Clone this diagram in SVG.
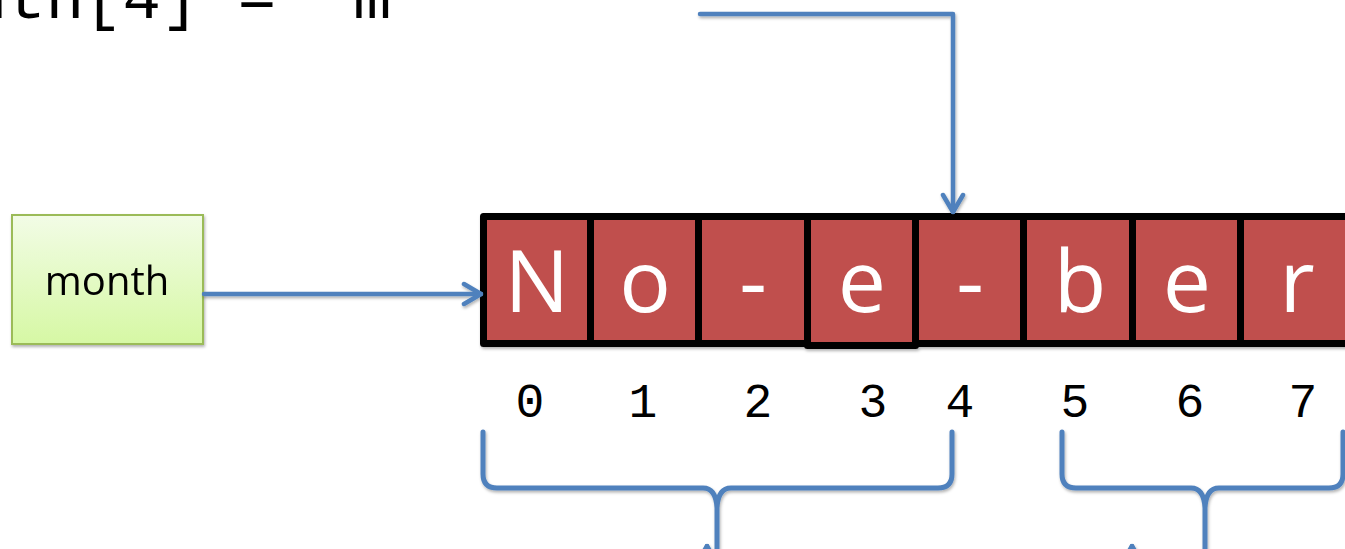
<svg xmlns="http://www.w3.org/2000/svg" width="1345" height="549" viewBox="0 0 1345 549">
<style>
.cell rect{fill:#c0504d;stroke:#000;stroke-width:7;stroke-linejoin:round}
.cell text{font-family:"Open Sans","Noto Sans",sans-serif;font-size:86px;fill:#fff;text-anchor:middle}
.idx{font-family:"Liberation Mono","Courier New",monospace;font-size:48px;fill:#000;text-anchor:middle}
.conn{fill:none;stroke:#4f81bd;stroke-width:4.5;stroke-linecap:round;stroke-linejoin:round}
.brace{fill:none;stroke:#4f81bd;stroke-width:5;stroke-linecap:round;stroke-linejoin:round}
</style>
<defs>
<linearGradient id="gGreen" x1="0" y1="0" x2="0" y2="1">
<stop offset="0" stop-color="#f2fce6"/>
<stop offset="1" stop-color="#d6f8a4"/>
</linearGradient>
<filter id="sh" x="-10%" y="-10%" width="130%" height="140%">
<feDropShadow dx="1" dy="2" stdDeviation="1.5" flood-color="#000" flood-opacity="0.3"/>
</filter>
<marker id="chev" markerUnits="userSpaceOnUse" viewBox="0 0 22 26" refX="20" refY="13" markerWidth="22" markerHeight="26" orient="auto">
<path d="M3,3 L20,13 L3,23" fill="none" stroke="#4f81bd" stroke-width="4.5" stroke-linecap="round" stroke-linejoin="round"/>
</marker>
</defs>
<rect width="1345" height="549" fill="#fff"/>

<text id="code" x="-108" y="18" font-family="Liberation Mono, Courier New, monospace" font-size="64" fill="#000">month[4] = 'm'</text>

<g id="month" filter="url(#sh)">
<rect x="12" y="215" width="191" height="129" fill="url(#gGreen)" stroke="#9bbb59" stroke-width="2"/>
<text x="107" y="295" font-family="Open Sans, Noto Sans, sans-serif" font-size="40" fill="#000" text-anchor="middle">month</text>
</g>

<g id="array" filter="url(#sh)">
<g id="cell0" class="cell"><rect x="483.5" y="216.5" width="107" height="127"/><text x="537" y="312">N</text></g>
<g id="cell1" class="cell"><rect x="590.5" y="216.5" width="108" height="127"/><text x="645" y="312">o</text></g>
<g id="cell2" class="cell"><rect x="698.5" y="216.5" width="109" height="127"/><text x="753" y="312">-</text></g>
<g id="cell3" class="cell"><rect x="807.5" y="216.5" width="108" height="129"/><text x="862" y="312">e</text></g>
<g id="cell4" class="cell"><rect x="915.5" y="216.5" width="108" height="127"/><text x="970" y="312">-</text></g>
<g id="cell5" class="cell"><rect x="1023.5" y="216.5" width="109" height="127"/><text x="1080" y="312">b</text></g>
<g id="cell6" class="cell"><rect x="1132.5" y="216.5" width="108" height="127"/><text x="1187" y="312">e</text></g>
<g id="cell7" class="cell"><rect x="1240.5" y="216.5" width="110" height="127"/><text x="1297" y="312">r</text></g>
</g>

<g id="indices">
<text class="idx" x="530" y="417">0</text>
<text class="idx" x="643" y="417">1</text>
<text class="idx" x="758" y="417">2</text>
<text class="idx" x="873" y="417">3</text>
<text class="idx" x="960" y="417">4</text>
<text class="idx" x="1075" y="417">5</text>
<text class="idx" x="1190" y="417">6</text>
<text class="idx" x="1303" y="417">7</text>
</g>

<g id="connectors" filter="url(#sh)">
<path class="conn" d="M204,294 H481" marker-end="url(#chev)"/>
<path class="conn" d="M700,14 H953 V212" marker-end="url(#chev)"/>
<path class="brace" d="M483,432 L483,474 Q483,488 497,488 L703,488 Q716,488 717,508 L717,552 M717,508 Q718,488 731,488 L938,488 Q952,488 952,474 L952,432"/>
<path class="brace" d="M1062,432 L1062,474 Q1062,488 1076,488 L1191,488 Q1204,488 1205,508 L1205,552 M1205,508 Q1206,488 1219,488 L1329,488 Q1343,488 1343,474 L1343,432"/>
<path class="conn" d="M707,575 V546" marker-end="url(#chev)"/>
<path class="conn" d="M1132,575 V546" marker-end="url(#chev)"/>
</g>
</svg>
